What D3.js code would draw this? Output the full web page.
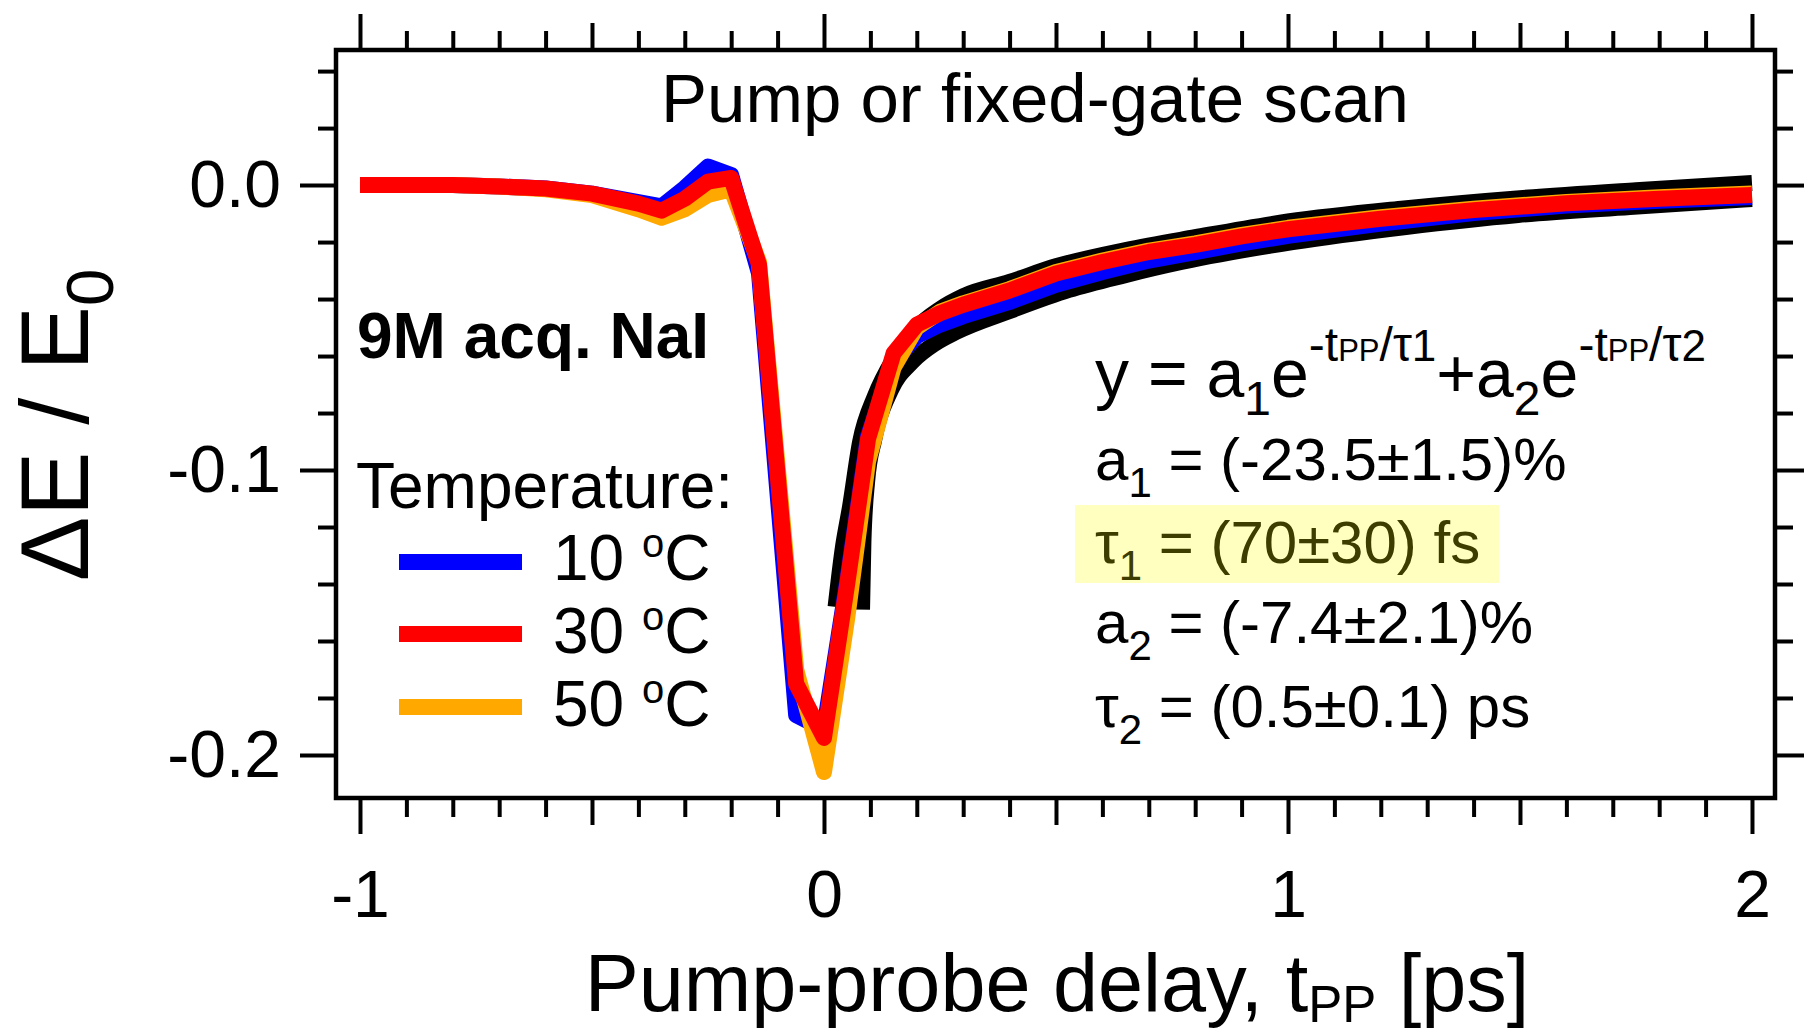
<!DOCTYPE html>
<html>
<head>
<meta charset="utf-8">
<script src="https://cdn.jsdelivr.net/npm/d3@7"></script>
<style>
body { margin: 0; background: #fff; }
svg { display: block; }
text { font-family: "Liberation Sans", Arial, sans-serif; fill: #000; }
</style>
</head>
<body>
<svg id="chart" width="1804" height="1033"></svg>
<script>
// pump-probe delay grid (ps), shared by the three temperature scans
var delay  = [-1.0, -0.9, -0.8, -0.7, -0.6, -0.5, -0.4, -0.35, -0.3, -0.25, -0.2, -0.14, -0.06, 0.0,
              0.05, 0.095, 0.15, 0.2, 0.25, 0.3, 0.4, 0.5, 0.6, 0.7, 0.8, 0.9, 1.0, 1.2, 1.4, 1.6, 1.8, 2.0];
var scan10 = [0.0, 0.0, 0.0, -0.0005, -0.0012, -0.003, -0.006, -0.0075, -0.001, 0.0065, 0.0035, -0.031, -0.186, -0.191,
              -0.139, -0.088, -0.062, -0.053, -0.049, -0.046, -0.041, -0.035, -0.0305, -0.0265, -0.0235, -0.0205, -0.0178, -0.0135, -0.0098, -0.0072, -0.0055, -0.0042];
var scan30 = [0.0, 0.0, 0.0, -0.0005, -0.0012, -0.003, -0.0065, -0.009, -0.0048, 0.0012, 0.0025, -0.028, -0.175, -0.194,
              -0.140, -0.089, -0.059, -0.049, -0.045, -0.042, -0.037, -0.031, -0.027, -0.0235, -0.021, -0.018, -0.0155, -0.0118, -0.0088, -0.0064, -0.0048, -0.0035];
var scan50 = [0.0, 0.0, 0.0, -0.0005, -0.0015, -0.0035, -0.0085, -0.0115, -0.0085, -0.0035, -0.0015, -0.027, -0.170, -0.206,
              -0.152, -0.097, -0.064, -0.050, -0.0445, -0.0415, -0.0365, -0.0305, -0.0265, -0.023, -0.0205, -0.0175, -0.015, -0.0113, -0.0083, -0.0059, -0.0043, -0.003];
// the two black fit curves
var fitUpperT = [0.025, 0.04, 0.056, 0.078, 0.11, 0.15, 0.2, 0.25, 0.3, 0.4, 0.5, 0.65, 0.8, 1.0, 1.25, 1.5, 1.75, 2.0];
var fitUpperV = [-0.148, -0.128, -0.113, -0.090, -0.074, -0.061, -0.050, -0.0435, -0.039, -0.034, -0.0285, -0.0228, -0.0183, -0.0128, -0.0082, -0.0046, -0.0018, 0.0007];
var fitLowerT = [0.082, 0.085, 0.093, 0.108, 0.144, 0.19, 0.24, 0.284, 0.405, 0.528, 0.649, 0.77, 1.01, 1.254, 1.496, 1.737, 2.0];
var fitLowerV = [-0.149, -0.125, -0.104, -0.0895, -0.072, -0.062, -0.0555, -0.0516, -0.0439, -0.0368, -0.0316, -0.027, -0.020, -0.0147, -0.0105, -0.0077, -0.0049];

var temps = ["10", "30", "50"];
var tempColors = ["#0000ff", "#ff0000", "#ffa800"];
var xMajor = [-1, 0, 1, 2], xMedium = [-0.5, 0.5, 1.5];
var yMajor = [0, -0.1, -0.2];

var svg = d3.select("#chart");
var x = d3.scaleLinear().domain([-1.0517, 2.0496]).range([336, 1775]);
var y = d3.scaleLinear().domain([-0.2151, 0.0474]).range([798, 50]);

var xMinor = d3.range(-10, 21).map(function(d){ return d / 10; })
	.filter(function(d){ return xMajor.indexOf(d) < 0 && xMedium.indexOf(d) < 0; });
var yMinor = d3.range(-10, 3).map(function(d){ return d / 50; })
	.filter(function(d){ return Math.abs(d * 10 - Math.round(d * 10)) > 1e-6; });

// ticks on all four sides, pointing outward
function ticks(axisFn, scale, vals, size, pos, fmt, pad){
	var ax = axisFn(scale).tickValues(vals).tickSize(size).tickSizeOuter(0)
		.tickFormat(fmt || "").tickPadding(pad || 3);
	var g = svg.append("g").attr("transform", pos).call(ax);
	g.select(".domain").remove();
	g.selectAll(".tick line").attr("stroke", "#000").attr("stroke-width", 4);
	g.selectAll("text").attr("font-size", 66).attr("font-family", "Liberation Sans, Arial, sans-serif").attr("fill", "#000");
	return g;
}
ticks(d3.axisBottom, x, xMinor, 19, "translate(0,798)");
ticks(d3.axisBottom, x, xMedium, 27, "translate(0,798)");
ticks(d3.axisBottom, x, xMajor, 36, "translate(0,798)", function(d){ return String(d); }, 36);
ticks(d3.axisTop, x, xMinor, 19, "translate(0,50)");
ticks(d3.axisTop, x, xMedium, 27, "translate(0,50)");
ticks(d3.axisTop, x, xMajor, 36, "translate(0,50)");
ticks(d3.axisLeft, y, yMinor, 18, "translate(336,0)");
ticks(d3.axisLeft, y, yMajor, 36, "translate(336,0)", function(d){ return d.toFixed(1); }, 19);
ticks(d3.axisRight, y, yMinor, 18, "translate(1775,0)");
ticks(d3.axisRight, y, yMajor, 30, "translate(1775,0)");

svg.append("rect").attr("x", 336).attr("y", 50).attr("width", 1775 - 336).attr("height", 798 - 50)
	.attr("fill", "none").attr("stroke", "#000").attr("stroke-width", 4.5);

var line = d3.line().x(function(d){ return x(d[0]); }).y(function(d){ return y(d[1]); });
var smooth = d3.line().curve(d3.curveMonotoneX).x(function(d){ return x(d[0]); }).y(function(d){ return y(d[1]); });

var curves = svg.append("g").attr("fill", "none").attr("stroke-width", 16).attr("stroke-linecap", "butt");
curves.append("path").attr("d", smooth(d3.zip(fitUpperT, fitUpperV))).attr("stroke", "#000");
curves.append("path").attr("d", smooth(d3.zip(fitLowerT, fitLowerV))).attr("stroke", "#000");
[scan10, scan50, scan30].forEach(function(s){
	var c = s === scan10 ? 0 : (s === scan30 ? 1 : 2);
	curves.append("path").attr("d", line(d3.zip(delay, s)))
		.attr("stroke", tempColors[c]).attr("stroke-linejoin", "round");
});

// text with sub/superscripts: parts = [string, size, baseline offset, fill]
function rich(px, py, anchor, parts){
	var t = svg.append("text").attr("x", px).attr("y", py).attr("text-anchor", anchor);
	var cur = 0;
	parts.forEach(function(p){
		t.append("tspan").attr("font-size", p[1]).attr("dy", p[2] - cur)
			.attr("fill", p[3] || "#000").text(p[0]);
		cur = p[2];
	});
	return t;
}

rich(1035, 122, "middle", [["Pump or fixed-gate scan", 69, 0]]);
rich(1057, 1011, "middle", [["Pump-probe delay, t", 81, 0], ["PP", 51, 11], [" [ps]", 81, 0]]);
svg.append("text").attr("transform", "translate(88,425) rotate(-90)").attr("text-anchor", "middle")
	.attr("font-size", 97).text("\u0394E / E")
	.append("tspan").attr("font-size", 67).attr("dy", 25).text("0");

svg.append("text").attr("x", 357).attr("y", 358).attr("font-size", 64).attr("font-weight", "bold").text("9M acq. NaI");
svg.append("text").attr("x", 356).attr("y", 508).attr("font-size", 64).text("Temperature:");

var legendY = [562, 634, 707], legendBase = [580, 653, 726];
temps.forEach(function(tp, i){
	svg.append("line").attr("x1", 399).attr("x2", 522).attr("y1", legendY[i]).attr("y2", legendY[i])
		.attr("stroke", tempColors[i]).attr("stroke-width", 16);
	rich(553, legendBase[i], "start", [[tp + " ", 64, 0], ["o", 40, -23], ["C", 64, 0]]);
});

// fit function and parameters
rich(1095, 397, "start", [["y = a", 68, 0], ["1", 48, 18], ["e", 68, 0], ["-t", 48, -36], ["PP", 31, -36], ["/\u03c4", 48, -36], ["1", 44, -36],
	["+a", 68, 0], ["2", 48, 18], ["e", 68, 0], ["-t", 48, -36], ["PP", 31, -36], ["/\u03c4", 48, -36], ["2", 44, -36]]);
rich(1095, 480, "start", [["a", 60, 0], ["1", 42, 17], [" = (-23.5\u00b11.5)%", 60, 0]]);
svg.append("rect").attr("x", 1075).attr("y", 505).attr("width", 424).attr("height", 78).attr("fill", "#ffffc0");
rich(1095, 563, "start", [["\u03c4", 60, 0, "#3d3d00"], ["1", 42, 17, "#3d3d00"], [" = (70\u00b130) fs", 60, 0, "#3d3d00"]]);
rich(1095, 643, "start", [["a", 60, 0], ["2", 42, 17], [" = (-7.4\u00b12.1)%", 60, 0]]);
rich(1095, 727, "start", [["\u03c4", 60, 0], ["2", 42, 17], [" = (0.5\u00b10.1) ps", 60, 0]]);
</script>
</body>
</html>
